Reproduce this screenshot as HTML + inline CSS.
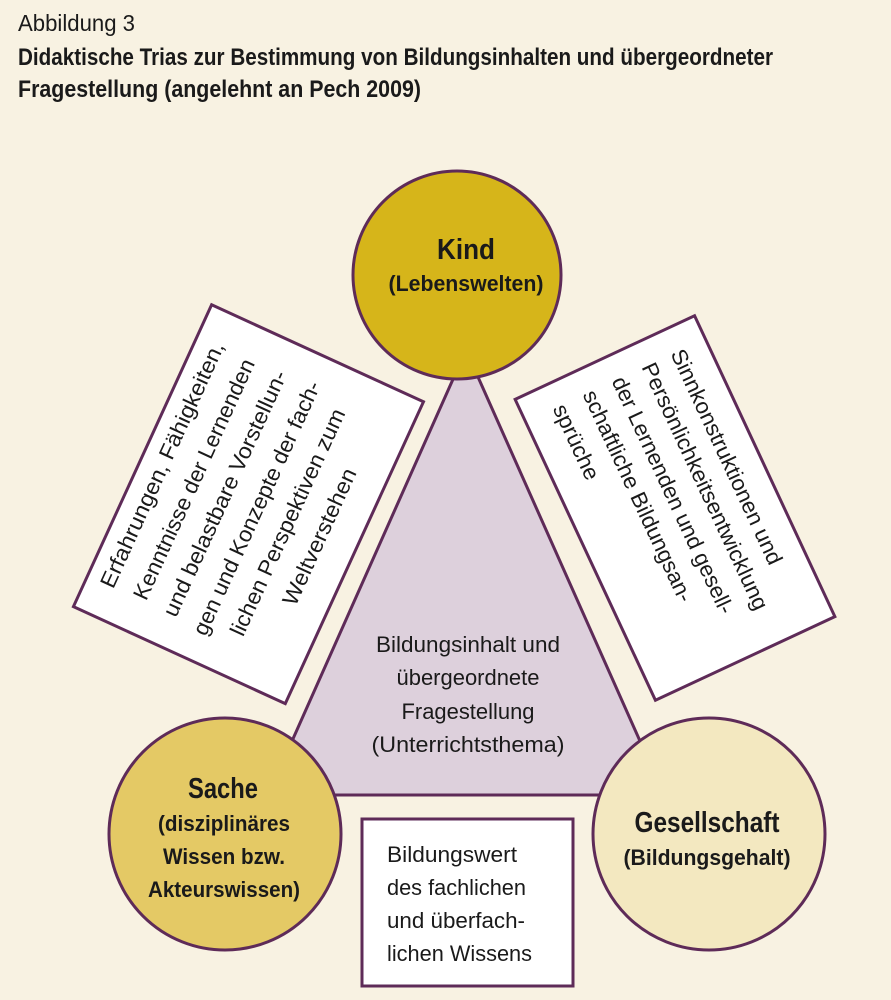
<!DOCTYPE html>
<html><head><meta charset="utf-8"><style>
html,body{margin:0;padding:0;background:#f8f2e2;}
svg{display:block;}
text{font-family:"Liberation Sans Narrow","Liberation Sans",sans-serif;fill:#1a1a1a;}
</style></head><body>
<svg width="891" height="1000" viewBox="0 0 891 1000" xmlns="http://www.w3.org/2000/svg">
<rect width="891" height="1000" fill="#f8f2e2"/>
<text x="18" y="31" font-size="23" textLength="117" lengthAdjust="spacingAndGlyphs">Abbildung 3</text>
<text x="18" y="65" font-size="24" font-weight="bold" textLength="755" lengthAdjust="spacingAndGlyphs">Didaktische Trias zur Bestimmung von Bildungsinhalten und übergeordneter</text>
<text x="18" y="97" font-size="24" font-weight="bold" textLength="403" lengthAdjust="spacingAndGlyphs">Fragestellung (angelehnt an Pech 2009)</text>

<polygon points="466,350 268,795 664,795" fill="#ddd0dc" stroke="#5e2b58" stroke-width="3" stroke-linejoin="round"/>

<g transform="translate(248,504) rotate(-65.4)">
<rect x="-166" y="-116" width="332" height="233" fill="#fff" stroke="#5e2b58" stroke-width="3"/>
<g font-size="22" text-anchor="middle">
<text x="0" y="-87" textLength="268" lengthAdjust="spacingAndGlyphs">Erfahrungen, Fähigkeiten,</text>
<text x="0" y="-52" textLength="262" lengthAdjust="spacingAndGlyphs">Kenntnisse der Lernenden</text>
<text x="0" y="-18" textLength="268" lengthAdjust="spacingAndGlyphs">und belastbare Vorstellun-</text>
<text x="0" y="17" textLength="277" lengthAdjust="spacingAndGlyphs">gen und Konzepte der fach-</text>
<text x="0" y="51" textLength="247" lengthAdjust="spacingAndGlyphs">lichen Perspektiven zum</text>
<text x="0" y="86" textLength="148" lengthAdjust="spacingAndGlyphs">Weltverstehen</text>
</g></g>

<g transform="translate(675,508) rotate(65)">
<rect x="-166" y="-99" width="332" height="198" fill="#fff" stroke="#5e2b58" stroke-width="3"/>
<g font-size="22">
<text x="-142" y="-61" textLength="235" lengthAdjust="spacingAndGlyphs">Sinnkonstruktionen und</text>
<text x="-142" y="-29" textLength="270" lengthAdjust="spacingAndGlyphs">Persönlichkeitsentwicklung</text>
<text x="-142" y="4" textLength="259" lengthAdjust="spacingAndGlyphs">der Lernenden und gesell-</text>
<text x="-142" y="36" textLength="231" lengthAdjust="spacingAndGlyphs">schaftliche Bildungsan-</text>
<text x="-142" y="69" textLength="81" lengthAdjust="spacingAndGlyphs">sprüche</text>
</g></g>

<g font-size="22" text-anchor="middle">
<text x="468" y="652" textLength="184" lengthAdjust="spacingAndGlyphs">Bildungsinhalt und</text>
<text x="468" y="685" textLength="143" lengthAdjust="spacingAndGlyphs">übergeordnete</text>
<text x="468" y="719" textLength="133" lengthAdjust="spacingAndGlyphs">Fragestellung</text>
<text x="468" y="752" textLength="193" lengthAdjust="spacingAndGlyphs">(Unterrichtsthema)</text>
</g>

<circle cx="457" cy="275" r="104" fill="#d6b51a" stroke="#5e2b58" stroke-width="3"/>
<circle cx="225" cy="834" r="116" fill="#e4c965" stroke="#5e2b58" stroke-width="3"/>
<circle cx="709" cy="834" r="116" fill="#f3e8c0" stroke="#5e2b58" stroke-width="3"/>

<g text-anchor="middle">
<text x="466" y="259" font-size="29" font-weight="bold" textLength="58" lengthAdjust="spacingAndGlyphs">Kind</text>
<text x="466" y="291" font-size="22" font-weight="bold" textLength="155" lengthAdjust="spacingAndGlyphs">(Lebenswelten)</text>
<text x="223" y="798" font-size="29" font-weight="bold" textLength="70" lengthAdjust="spacingAndGlyphs">Sache</text>
<text x="224" y="831" font-size="22" font-weight="bold" textLength="132" lengthAdjust="spacingAndGlyphs">(disziplinäres</text>
<text x="224" y="864" font-size="22" font-weight="bold" textLength="122" lengthAdjust="spacingAndGlyphs">Wissen bzw.</text>
<text x="224" y="897" font-size="22" font-weight="bold" textLength="152" lengthAdjust="spacingAndGlyphs">Akteurswissen)</text>
<text x="707" y="832" font-size="29" font-weight="bold" textLength="145" lengthAdjust="spacingAndGlyphs">Gesellschaft</text>
<text x="707" y="865" font-size="22" font-weight="bold" textLength="167" lengthAdjust="spacingAndGlyphs">(Bildungsgehalt)</text>
</g>

<rect x="362" y="819" width="211" height="167" fill="#fff" stroke="#5e2b58" stroke-width="3"/>
<g font-size="22">
<text x="387" y="862" textLength="130" lengthAdjust="spacingAndGlyphs">Bildungswert</text>
<text x="387" y="895" textLength="139" lengthAdjust="spacingAndGlyphs">des fachlichen</text>
<text x="387" y="928" textLength="138" lengthAdjust="spacingAndGlyphs">und überfach-</text>
<text x="387" y="961" textLength="145" lengthAdjust="spacingAndGlyphs">lichen Wissens</text>
</g>
</svg>
</body></html>
